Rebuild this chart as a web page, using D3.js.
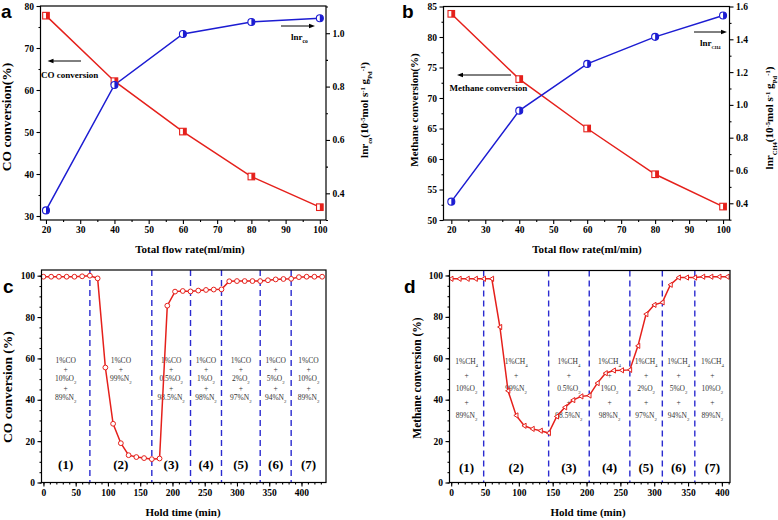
<!DOCTYPE html>
<html><head><meta charset="utf-8">
<script src="https://cdn.jsdelivr.net/npm/d3@7"></script>
<style>body{margin:0;background:#fff}</style>
</head><body><svg id="chart" width="778" height="520"></svg>
<script>
// ---------- data ----------
const flowRate = [20, 40, 60, 80, 100];
const coConversion = [77.7, 62.1, 50.1, 39.4, 32.1];
const lnrCO = [0.336, 0.806, 0.997, 1.042, 1.056];
const ch4Conversion = [83.8, 73.1, 65.0, 57.5, 52.2];
const lnrCH4 = [0.41, 0.965, 1.25, 1.415, 1.545];

const holdTimeC = [0,12,24,36,48,60,72,84,96,108,120,132,144,156,168,180,192,204,216,228,240,252,264,276,288,300,312,324,336,348,360,372,384,396,408,420,432];
const coHold = [99.5,99.5,99.5,99.5,99.5,99.7,100,98.7,55.6,28.4,19.0,13.2,12.3,11.8,11.3,11.6,85.5,92.3,92.6,92.4,92.8,93.1,93.3,93.4,97.3,97.4,97.4,97.4,97.4,97.8,98.2,98.4,98.5,99.3,99.5,99.5,99.5];
const holdTimeD = [0,12,24,36,48,60,72,84,96,108,120,132,144,156,168,180,192,204,216,228,240,252,264,276,288,300,312,324,336,348,360,372,384,396,408];
const ch4Hold = [98.4,98.4,98.4,98.4,98.4,98.4,75.1,44.3,32.4,27.4,25.9,25.0,23.9,31.9,36.3,39.8,41.6,42.0,48.0,52.8,54.1,54.2,54.4,66.0,81.3,85.8,87.0,95.5,99.0,99.0,99.0,99.4,99.4,99.4,99.4];

const switchC = [72, 168, 228, 276, 336, 384];
const switchD = [48, 144, 204, 264, 312, 360];
const stageLabels = ["(1)","(2)","(3)","(4)","(5)","(6)","(7)"];
const gasC = [
  ["1%CO","+","10%O₂","+","89%N₂"],
  ["1%CO","+","99%N₂"],
  ["1%CO","+","0.5%O₂","+","98.5%N₂"],
  ["1%CO","+","1%O₂","+","98%N₂"],
  ["1%CO","+","2%O₂","+","97%N₂"],
  ["1%CO","+","5%O₂","+","94%N₂"],
  ["1%CO","+","10%O₂","+","89%N₂"]
];
const gasD = [
  ["1%CH₄","+","10%O₂","+","89%N₂"],
  ["1%CH₄","+","99%N₂"],
  ["1%CH₄","+","0.5%O₂","+","98.5%N₂"],
  ["1%CH₄","+","1%O₂","+","98%N₂"],
  ["1%CH₄","+","2%O₂","+","97%N₂"],
  ["1%CH₄","+","5%O₂","+","94%N₂"],
  ["1%CH₄","+","10%O₂","+","89%N₂"]
];

// ---------- styles ----------
const RED = "#e5201b", BLUE = "#1c1cd2", DASH = "#2b2bd0";
const SERIF = "'Liberation Serif','Times New Roman',serif";
const SANS = "'Liberation Sans',Arial,sans-serif";
const svg = d3.select("#chart");
const SUBMAP = {"₂": "2", "₄": "4"};

function range(a, b, s) { const r = []; for (let v = a; v <= b + 1e-9; v += s) r.push(+v.toFixed(4)); return r; }

function drawAxis(g, scale, orient, major, minor, fmt) {
  const A = {bottom: d3.axisBottom, left: d3.axisLeft, right: d3.axisRight}[orient];
  const gm = g.append("g").call(A(scale).tickValues(minor).tickSize(2).tickFormat(""));
  const gM = g.append("g").call(A(scale).tickValues(major).tickSize(4).tickPadding(2.5).tickFormat(fmt));
  [gm, gM].forEach(s => {
    s.select(".domain").remove();
    s.selectAll("line").attr("stroke", "#000").attr("stroke-width", 1.1);
    s.selectAll("text").attr("font-family", SERIF).attr("font-weight", "bold").attr("font-size", 9.5).attr("fill", "#000");
  });
}

function frame(p) {
  svg.append("rect").attr("x", p.L).attr("y", p.T).attr("width", p.R - p.L).attr("height", p.B - p.T)
    .attr("fill", "none").attr("stroke", "#000").attr("stroke-width", 1.2);
}

function panelLetter(t, x, y) {
  svg.append("text").attr("x", x).attr("y", y).text(t)
    .attr("font-family", SANS).attr("font-weight", "bold").attr("font-size", 19);
}

function leftTitle(txt, x, y, size) {
  svg.append("text").attr("transform", `translate(${x},${y}) rotate(-90)`).attr("text-anchor", "middle")
    .attr("font-family", SERIF).attr("font-weight", "bold").attr("font-size", size).text(txt);
}
function bottomTitle(txt, x, y) {
  svg.append("text").attr("x", x).attr("y", y).attr("text-anchor", "middle")
    .attr("font-family", SERIF).attr("font-weight", "bold").attr("font-size", 11).text(txt);
}
function rateTitle(sub, x, y, size) {
  const t = svg.append("text").attr("transform", `translate(${x},${y}) rotate(-90)`).attr("text-anchor", "middle")
    .attr("font-family", SERIF).attr("font-weight", "bold").attr("font-size", size);
  const s = size * 0.6;
  t.append("tspan").text("lnr");
  t.append("tspan").attr("font-size", s).attr("baseline-shift", "sub").text(sub);
  t.append("tspan").text("(10");
  t.append("tspan").attr("font-size", s).attr("baseline-shift", "super").text("-5");
  t.append("tspan").text("mol s");
  t.append("tspan").attr("font-size", s).attr("baseline-shift", "super").text("-1");
  t.append("tspan").text(" g");
  t.append("tspan").attr("font-size", s).attr("baseline-shift", "sub").text("Pd");
  t.append("tspan").attr("font-size", s).attr("baseline-shift", "super").text("-1");
  t.append("tspan").text(")");
}

function arrow(x1, y, x2) {
  const dir = Math.sign(x2 - x1);
  svg.append("line").attr("x1", x1).attr("y1", y).attr("x2", x2 - dir * 4).attr("y2", y).attr("stroke", "#000").attr("stroke-width", 1);
  svg.append("path").attr("d", `M${x2},${y} L${x2 - dir * 6},${y - 2.3} L${x2 - dir * 6},${y + 2.3} Z`).attr("fill", "#000");
}

function halfSquares(xs, ys, x, y, color) {
  const g = svg.append("g");
  xs.forEach((d, i) => {
    const cx = x(d), cy = y(ys[i]), h = 3.3;
    g.append("rect").attr("x", cx - h).attr("y", cy - h).attr("width", 2 * h).attr("height", 2 * h)
      .attr("fill", "#fff").attr("stroke", color).attr("stroke-width", 1.1);
    g.append("rect").attr("x", cx).attr("y", cy - h).attr("width", h).attr("height", 2 * h).attr("fill", color);
  });
}
function halfCircles(xs, ys, x, y, color) {
  const g = svg.append("g");
  xs.forEach((d, i) => {
    const cx = x(d), cy = y(ys[i]), r = 3.5;
    g.append("circle").attr("cx", cx).attr("cy", cy).attr("r", r).attr("fill", "#fff").attr("stroke", color).attr("stroke-width", 1.1);
    g.append("path").attr("d", `M${cx},${cy - r} A${r},${r} 0 0 1 ${cx},${cy + r} Z`).attr("fill", color);
  });
}
function drawLine(xs, ys, x, y, color) {
  svg.append("path").datum(xs.map((d, i) => [d, ys[i]]))
    .attr("d", d3.line().x(d => x(d[0])).y(d => y(d[1])))
    .attr("fill", "none").attr("stroke", color).attr("stroke-width", 1.5);
}
// writes a formula string, turning unicode subscript digits into real sub tspans
function formulaText(sel, s, size) {
  let buf = "";
  const flush = () => { if (buf) { sel.append("tspan").text(buf); buf = ""; } };
  for (const ch of s) {
    if (SUBMAP[ch]) {
      flush();
      sel.append("tspan").attr("font-size", size * 0.65).attr("baseline-shift", "sub").text(SUBMAP[ch]);
    } else buf += ch;
  }
  flush();
}

// ---------- panel a ----------
(function () {
  const p = {L: 40.5, R: 326, T: 6, B: 220};
  const x = d3.scaleLinear().domain([18.4, 101.8]).range([p.L, p.R]);
  const yL = d3.scaleLinear().domain([29.05, 80]).range([p.B, p.T]);
  const yR = d3.scaleLinear().domain([0.3, 1.102]).range([p.B, p.T]);
  drawLine(flowRate, coConversion, x, yL, RED);
  drawLine(flowRate, lnrCO, x, yR, BLUE);
  halfSquares(flowRate, coConversion, x, yL, RED);
  halfCircles(flowRate, lnrCO, x, yR, BLUE);
  frame(p);
  drawAxis(svg.append("g").attr("transform", `translate(0,${p.B})`), x, "bottom", range(20, 100, 10), range(25, 95, 10), d3.format("d"));
  drawAxis(svg.append("g").attr("transform", `translate(${p.L},0)`), yL, "left", range(30, 80, 10), range(35, 75, 10), d3.format("d"));
  drawAxis(svg.append("g").attr("transform", `translate(${p.R},0)`), yR, "right", [0.4, 0.6, 0.8, 1.0], [0.3, 0.5, 0.7, 0.9, 1.1], d3.format(".1f"));
  bottomTitle("Total flow rate(ml/min)", 190, 253);
  leftTitle("CO conversion(%)", 11, 117, 13.5);
  rateTitle("co", 368, 110, 11);
  panelLetter("a", 1, 18);
  arrow(81, 61, 47.5);
  svg.append("text").attr("x", 41).attr("y", 78).text("CO conversion").attr("font-family", SERIF).attr("font-weight", "bold").attr("font-size", 9);
  arrow(281, 26, 315);
  const t = svg.append("text").attr("x", 291).attr("y", 40).attr("font-family", SERIF).attr("font-weight", "bold").attr("font-size", 9);
  t.append("tspan").text("lnr"); t.append("tspan").attr("font-size", 5.5).attr("baseline-shift", "sub").text("co");
})();

// ---------- panel b ----------
(function () {
  const p = {L: 443.5, R: 729.5, T: 6.5, B: 220};
  const x = d3.scaleLinear().domain([17.7, 101.9]).range([p.L, p.R]);
  const yL = d3.scaleLinear().domain([50, 85]).range([p.B, p.T]);
  const yR = d3.scaleLinear().domain([0.298, 1.6]).range([p.B, p.T]);
  drawLine(flowRate, ch4Conversion, x, yL, RED);
  drawLine(flowRate, lnrCH4, x, yR, BLUE);
  halfSquares(flowRate, ch4Conversion, x, yL, RED);
  halfCircles(flowRate, lnrCH4, x, yR, BLUE);
  frame(p);
  drawAxis(svg.append("g").attr("transform", `translate(0,${p.B})`), x, "bottom", range(20, 100, 10), range(25, 95, 10), d3.format("d"));
  drawAxis(svg.append("g").attr("transform", `translate(${p.L},0)`), yL, "left", range(50, 85, 5), range(52.5, 82.5, 5), d3.format("d"));
  drawAxis(svg.append("g").attr("transform", `translate(${p.R},0)`), yR, "right", range(0.4, 1.6, 0.2), range(0.3, 1.5, 0.2), d3.format(".1f"));
  bottomTitle("Total flow rate(ml/min)", 587, 253);
  leftTitle("Methane conversion(%)", 418, 110, 11);
  rateTitle("CH4", 773, 118, 11);
  panelLetter("b", 402, 18);
  arrow(511, 75, 457);
  svg.append("text").attr("x", 449.5).attr("y", 91).text("Methane conversion").attr("font-family", SERIF).attr("font-weight", "bold").attr("font-size", 9);
  arrow(694, 32, 727);
  const t = svg.append("text").attr("x", 700).attr("y", 46).attr("font-family", SERIF).attr("font-weight", "bold").attr("font-size", 9);
  t.append("tspan").text("lnr"); t.append("tspan").attr("font-size", 4.5).attr("baseline-shift", "sub").text("CH4");
})();

// ---------- hold-time panels ----------
function holdPanel(p, xDom, yDom, times, vals, switches, gas, lineGap, gasTop, labelY, marker, titles) {
  const x = d3.scaleLinear().domain(xDom).range([p.L, p.R]);
  const y = d3.scaleLinear().domain(yDom).range([p.B, p.T]);
  const bounds = [xDom[0], ...switches, xDom[1]];
  gas.forEach((lines, i) => {
    const cx = x((bounds[i] + bounds[i + 1]) / 2);
    lines.forEach((s, j) => {
      const t = svg.append("text").attr("x", cx).attr("y", gasTop + j * lineGap).attr("text-anchor", "middle")
        .attr("font-family", SERIF).attr("font-size", 7.5).attr("fill", "#333");
      formulaText(t, s, 7.5);
    });
    svg.append("text").attr("x", cx).attr("y", labelY).attr("text-anchor", "middle")
      .attr("font-family", SERIF).attr("font-weight", "bold").attr("font-size", 13).text(stageLabels[i]);
  });
  svg.append("g").selectAll("line").data(switches).join("line")
    .attr("x1", d => x(d)).attr("x2", d => x(d)).attr("y1", p.T).attr("y2", p.B)
    .attr("stroke", DASH).attr("stroke-width", 1.4).attr("stroke-dasharray", "6,4");
  drawLine(times, vals, x, y, RED);
  const g = svg.append("g");
  times.forEach((t, i) => {
    const cx = x(t), cy = y(vals[i]);
    if (marker === "circle") {
      g.append("circle").attr("cx", cx).attr("cy", cy).attr("r", 2.4).attr("fill", "#fff").attr("stroke", RED).attr("stroke-width", 1);
    } else {
      g.append("path").attr("d", `M${cx - 2.3},${cy} L${cx + 1.8},${cy - 2.6} L${cx + 1.8},${cy + 2.6} Z`)
        .attr("fill", "#fff").attr("stroke", RED).attr("stroke-width", 1);
    }
  });
  frame(p);
  drawAxis(svg.append("g").attr("transform", `translate(0,${p.B})`), x, "bottom", range(0, 400, 50), range(0, Math.floor(xDom[1] / 10) * 10, 10), d3.format("d"));
  drawAxis(svg.append("g").attr("transform", `translate(${p.L},0)`), y, "left", range(0, 100, 20), range(0, 100, 5), d3.format("d"));
  bottomTitle("Hold time (min)", titles.bx, 516);
  leftTitle(titles.left, titles.lx, titles.ly, titles.size);
}

holdPanel({L: 41.5, R: 326, T: 270, B: 482.5}, [-3, 438], [0, 102.75], holdTimeC, coHold, switchC, gasC,
  9.4, 362.5, 469, "circle", {bx: 183, left: "CO conversion (%)", lx: 12, ly: 387, size: 13.5});
panelLetter("c", 3, 293);

holdPanel({L: 449.5, R: 730, T: 270.5, B: 482.5}, [-2.5, 412], [0, 102.4], holdTimeD, ch4Hold, switchD, gasD,
  13.5, 364, 471.5, "triangle", {bx: 588, left: "Methane conversion (%)", lx: 421, ly: 378, size: 11.5});
panelLetter("d", 404, 293);
</script>
</body></html>
